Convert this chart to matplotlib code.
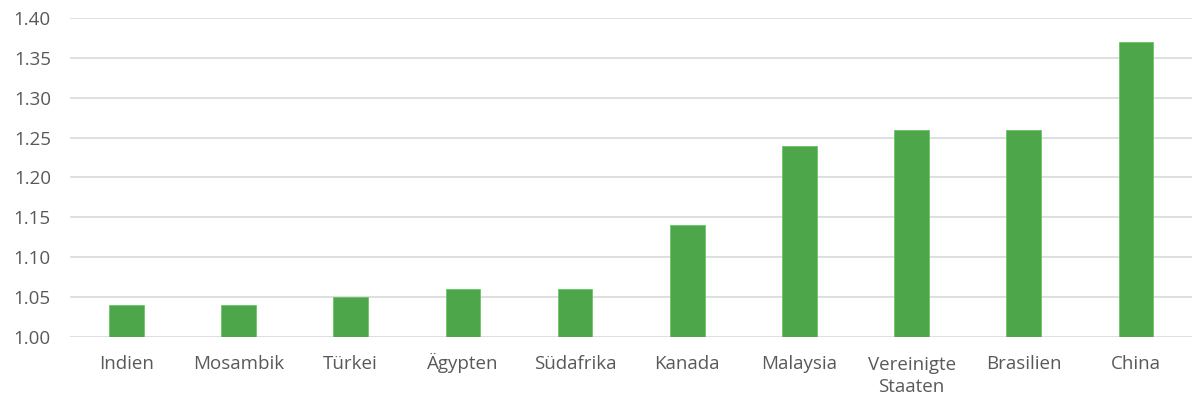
import matplotlib.pyplot as plt
import numpy as np

laender = ["Indien", "Mosambik", "Türkei", "Ägypten", "Südafrika", "Kanada",
           "Malaysia", "Vereinigte\nStaaten", "Brasilien", "China"]
werte = [1.04, 1.04, 1.05, 1.06, 1.06, 1.14, 1.24, 1.26, 1.26, 1.37]
y_ticks = [1.00, 1.05, 1.10, 1.15, 1.20, 1.25, 1.30, 1.35, 1.40]

plt.rcParams['font.family'] = ['Open Sans', 'DejaVu Sans']
grau = '#595959'

fig, ax = plt.subplots(figsize=(11.92, 4), dpi=100)
fig.subplots_adjust(left=0.059, right=1.0, top=0.955, bottom=0.158)

x = np.arange(len(laender))
ax.bar(x, np.array(werte) - 1.0, bottom=1.0, width=0.31,
       color='#4EA64A', edgecolor='#6CC468', linewidth=0.6, zorder=3)

ax.set_xlim(-0.5, len(laender) - 0.5)
ax.set_ylim(1.0, 1.40)
ax.set_yticks(y_ticks)
ax.set_yticklabels([f"{v:.2f}" for v in y_ticks])
ax.set_xticks(x)
ax.set_xticklabels(laender, linespacing=1.3)

ax.grid(axis='y', color='#D9D9D9', linewidth=1.2, zorder=0)
for s in ax.spines.values():
    s.set_visible(False)
ax.tick_params(axis='both', length=0, labelsize=13.5, colors=grau)
ax.tick_params(axis='y', pad=14)
ax.tick_params(axis='x', pad=23.5)

# Umlaute sollen die Beschriftung nicht nach unten schieben -> an der Grundlinie ausrichten
ax_hoehe_px = fig.get_figheight() * fig.dpi * (0.955 - 0.158)
for tick, name in zip(ax.xaxis.get_major_ticks(), laender):
    tick.label1.set_verticalalignment('baseline')
    zeilen = name.count("\n")
    if zeilen:
        # mehrzeilig: erste Zeile auf die gemeinsame Grundlinie setzen
        tick.label1.set_y(-zeilen * 23 / ax_hoehe_px)

plt.savefig("out.png", dpi=100)
